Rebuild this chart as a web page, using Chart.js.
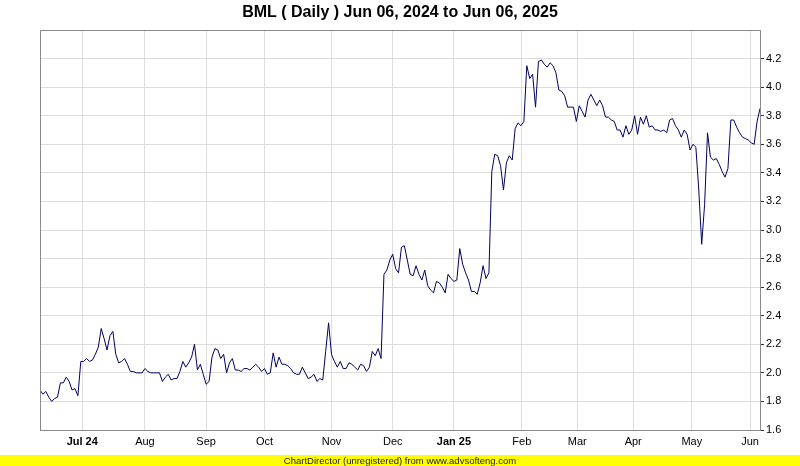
<!DOCTYPE html>
<html>
<head>
<meta charset="utf-8">
<script src="https://cdn.jsdelivr.net/npm/chart.js@4"></script>
<style>
  html, body { margin: 0; padding: 0; background: #fff; }
  canvas { display: block; }
</style>
</head>
<body>
<canvas id="chart" width="800" height="466"></canvas>
<script>
// daily closes, Jun 06 2024 .. Jun 06 2025
const closeJunAug = [1.88, 1.85, 1.87, 1.83, 1.80, 1.82, 1.83, 1.93, 1.93, 1.97, 1.94, 1.88, 1.89, 1.84,
  2.08, 2.08, 2.10, 2.08, 2.09, 2.13, 2.18, 2.31, 2.24, 2.16, 2.26, 2.29, 2.13, 2.07, 2.08, 2.10,
  2.06, 2.01, 2.01, 2.00, 2.00, 2.00, 2.03, 2.01, 2.00, 2.00, 2.00, 2.00, 1.94, 1.97, 1.99, 1.95,
  1.96, 1.96, 2.01, 2.08, 2.04, 2.07];
const closeAugNov = [2.11, 2.20, 2.02, 2.06, 1.99, 1.92, 1.94, 2.11, 2.17, 2.16, 2.10, 2.13, 2.00, 2.07,
  2.10, 2.02, 2.02, 2.01, 2.03, 2.03, 2.02, 2.04, 2.06, 2.04, 2.01, 2.03, 1.99, 2.00, 2.14, 2.04,
  2.11, 2.06, 2.06, 2.05, 2.03, 2.00, 1.99, 1.99, 2.04, 2.00, 1.96, 1.97, 1.99, 1.94, 1.96, 1.95,
  2.15, 2.35, 2.13, 2.08];
const closeNovJan = [2.04, 2.08, 2.03, 2.03, 2.07, 2.06, 2.04, 2.02, 2.06, 2.05, 2.01, 2.04, 2.15, 2.12,
  2.17, 2.10, 2.69, 2.72, 2.79, 2.83, 2.73, 2.70, 2.88, 2.89, 2.79, 2.69, 2.68, 2.75, 2.69, 2.65,
  2.72, 2.61, 2.58, 2.56, 2.64, 2.63, 2.60, 2.56, 2.69, 2.66, 2.64, 2.65, 2.87, 2.76, 2.70, 2.65,
  2.57, 2.57, 2.55, 2.63, 2.75, 2.66, 2.70];
const closeJanApr = [3.41, 3.53, 3.52, 3.45, 3.28, 3.47, 3.52, 3.49, 3.71, 3.75, 3.73, 3.76, 4.15, 4.06,
  4.09, 3.86, 4.18, 4.19, 4.16, 4.14, 4.17, 4.15, 4.10, 3.98, 3.97, 3.94, 3.86, 3.86, 3.86, 3.76,
  3.87, 3.83, 3.79, 3.91, 3.95, 3.91, 3.87, 3.91, 3.87, 3.79, 3.79, 3.77, 3.76, 3.70, 3.70, 3.65];
const closeAprJun = [3.73, 3.67, 3.70, 3.80, 3.67, 3.79, 3.74, 3.80, 3.72, 3.73, 3.70, 3.70, 3.69, 3.70,
  3.68, 3.77, 3.78, 3.73, 3.70, 3.65, 3.70, 3.67, 3.56, 3.60, 3.58, 3.28, 2.90, 3.18, 3.68, 3.51,
  3.49, 3.50, 3.46, 3.41, 3.37, 3.43, 3.77, 3.77, 3.72, 3.68, 3.65, 3.64, 3.63, 3.61, 3.60, 3.76,
  3.85];

const closes = [...closeJunAug, ...closeAugNov, ...closeNovJan, ...closeJanApr, ...closeAprJun];

// first trading day of each month, as position along the series
const monthLabels = ['Jul 24', 'Aug', 'Sep', 'Oct', 'Nov', 'Dec', 'Jan 25', 'Feb', 'Mar', 'Apr', 'May', 'Jun'];
const monthPos = [14.5, 36, 57, 77, 100, 121, 142, 165.3, 184.3, 203.5, 223.6, 243.6];
const yearStart = [true, false, false, false, false, false, true, false, false, false, false, false];

const yMin = 1.6;
const yMax = 4.4;
const yStep = 0.2;

const FONT = '"Liberation Sans", Arial, sans-serif';

const decorations = {
  id: 'decorations',
  afterDraw(chart) {
    const { ctx, chartArea: a } = chart;
    ctx.save();
    // frame
    ctx.strokeStyle = '#8a8a8a';
    ctx.lineWidth = 1;
    ctx.beginPath();
    ctx.moveTo(a.left + 0.5, a.bottom);
    ctx.lineTo(a.left + 0.5, a.top + 0.5);
    ctx.lineTo(a.right, a.top + 0.5);
    ctx.stroke();
    // title
    ctx.fillStyle = '#000';
    ctx.font = 'bold 16px ' + FONT;
    ctx.textAlign = 'center';
    ctx.textBaseline = 'middle';
    ctx.fillText('BML ( Daily ) Jun 06, 2024 to Jun 06, 2025', 400, 13);
    // footer band
    ctx.fillStyle = '#ffff00';
    ctx.fillRect(0, 455, 800, 11);
    ctx.fillStyle = '#222';
    ctx.font = '9.5px ' + FONT;
    ctx.fillText('ChartDirector (unregistered) from www.advsofteng.com', 400, 461);
    ctx.restore();
  }
};

new Chart(document.getElementById('chart').getContext('2d'), {
  type: 'line',
  data: {
    datasets: [{
      data: closes.map((v, i) => ({ x: i, y: v })),
      borderColor: '#000060',
      borderWidth: 1,
      pointRadius: 0,
      tension: 0,
      fill: false,
    }],
  },
  options: {
    responsive: false,
    animation: false,
    devicePixelRatio: 1,
    layout: { padding: { top: 30, left: 40, right: 0, bottom: 0 } },
    plugins: {
      legend: { display: false },
      title: { display: false },
      tooltip: { enabled: false },
    },
    scales: {
      x: {
        type: 'linear',
        min: 0,
        max: closes.length - 1,
        afterFit: (scale) => { scale.height = 36; },
        afterBuildTicks: (scale) => { scale.ticks = monthPos.map(v => ({ value: v })); },
        grid: { color: '#dcdcdc', drawTicks: false },
        border: { color: '#8a8a8a' },
        ticks: {
          autoSkip: false,
          maxRotation: 0,
          padding: 5,
          color: '#000',
          font: (c) => ({ family: FONT, size: 11, weight: yearStart[c.index] ? 'bold' : 'normal' }),
          callback: (value, index) => monthLabels[index],
        },
      },
      y: {
        position: 'right',
        min: yMin,
        max: yMax,
        afterFit: (scale) => { scale.width = 40; },
        grid: {
          color: '#dcdcdc',
          tickLength: 4,
          tickColor: (c) => (c.tick && c.tick.value > 4.3 ? 'rgba(0,0,0,0)' : '#333'),
        },
        border: { color: '#8a8a8a' },
        ticks: {
          stepSize: yStep,
          padding: 2,
          color: '#000',
          font: { family: FONT, size: 11 },
          callback: (v) => (v > 4.3 ? '' : v.toFixed(1)),
        },
      },
    },
  },
  plugins: [decorations],
});
</script>
</body>
</html>
